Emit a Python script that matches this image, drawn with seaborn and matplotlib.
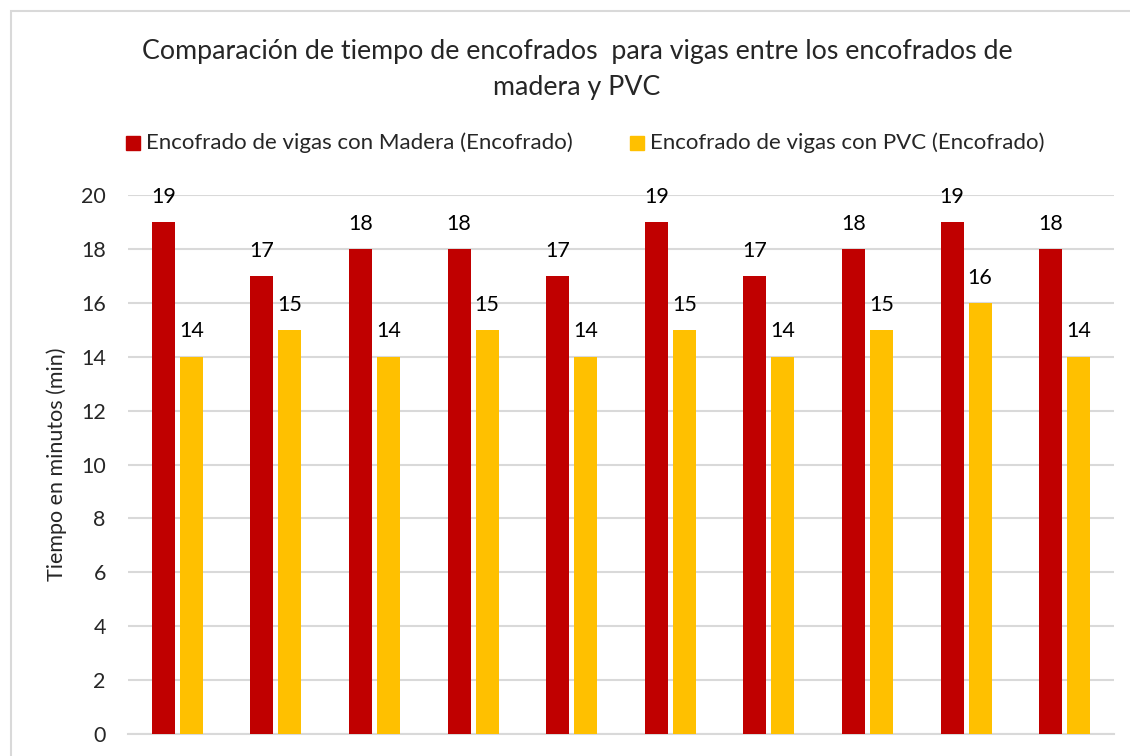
import pandas as pd
import matplotlib
matplotlib.use("Agg")
import matplotlib.pyplot as plt
import seaborn as sns
from matplotlib.patches import Rectangle

# values
grupos = [str(i) for i in range(1, 11)]
madera = [19, 17, 18, 18, 17, 19, 17, 18, 19, 18]
pvc = [14, 15, 14, 15, 14, 15, 14, 15, 16, 14]
serie_madera = "Encofrado de vigas con Madera (Encofrado)"
serie_pvc = "Encofrado de vigas con PVC (Encofrado)"
y_ticks = [0, 2, 4, 6, 8, 10, 12, 14, 16, 18, 20]

df = pd.DataFrame({
    "grupo": grupos * 2,
    "tiempo": madera + pvc,
    "serie": [serie_madera] * len(madera) + [serie_pvc] * len(pvc),
})

sns.set_style("white")
plt.rcParams["font.family"] = ["Lato", "DejaVu Sans"]

fig = plt.figure(figsize=(11.3, 7.56), dpi=100)
ax = fig.add_axes([0.1133, 0.0291, 0.8725, 0.7129])

sns.barplot(data=df, x="grupo", y="tiempo", hue="serie",
            palette=["#C00000", "#FFC000"], saturation=1, width=0.568, gap=0.18,
            errorbar=None, ax=ax, legend=False, zorder=3, linewidth=0)

for cont in ax.containers:
    ax.bar_label(cont, padding=11, fontsize=15.5, color="#000000")

ax.set_ylim(0, 20)
ax.set_yticks(y_ticks)
ax.tick_params(axis="y", labelsize=15.5, length=0, pad=16)
ax.set_xticks([])
ax.set_xlabel("")
ax.set_ylabel("Tiempo en minutos (min)", fontsize=15.5, labelpad=10)
ax.grid(axis="y", color="#d9d9d9", linewidth=1.5, zorder=0)
for s in ["top", "right", "left"]:
    ax.spines[s].set_visible(False)
ax.spines["bottom"].set_color("#d9d9d9")
ax.spines["bottom"].set_linewidth(1.5)

# title
fig.text(577 / 1130, 1 - 52 / 756,
         "Comparación de tiempo de encofrados  para vigas entre los encofrados de",
         ha="center", va="center", fontsize=19.3)
fig.text(577 / 1130, 1 - 88 / 756, "madera y PVC",
         ha="center", va="center", fontsize=19.3)

# legend
fig.patches.append(Rectangle((126 / 1130, 1 - 150 / 756), 14 / 1130, 14 / 756,
                             transform=fig.transFigure, color="#C00000"))
fig.text(146 / 1130, 1 - 143 / 756, serie_madera, ha="left", va="center", fontsize=16)
fig.patches.append(Rectangle((630 / 1130, 1 - 150 / 756), 14 / 1130, 14 / 756,
                             transform=fig.transFigure, color="#FFC000"))
fig.text(650 / 1130, 1 - 143 / 756, serie_pvc, ha="left", va="center", fontsize=16)

# chart border
fig.patches.append(Rectangle((11 / 1130, -0.1), 1.2, 1.1 - 11 / 756,
                             transform=fig.transFigure, fill=False,
                             edgecolor="#d9d9d9", linewidth=1.5))

fig.savefig("out.png", dpi=100)
